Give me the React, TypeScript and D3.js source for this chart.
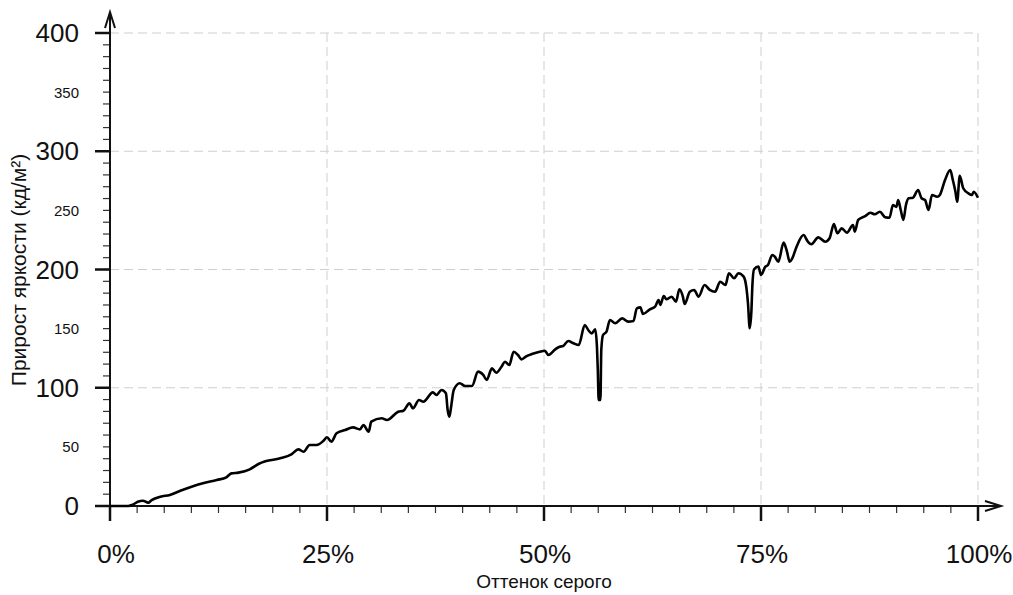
import * as d3 from "d3"

// grey shade (%) and luminance gain (cd/m²)
const shade = [
  0, 2.1, 2.6, 3.2, 3.8, 4.4, 4.8, 5.8, 6.9, 8.1, 9.4, 10.7, 12.3, 13.4, 14.0, 14.8, 16.1, 17.1, 17.9, 19.6,
  20.9, 21.7, 22.3, 23.0, 23.8, 24.6, 25.0, 25.5, 26.1, 27.1, 28.0, 28.8, 29.2, 29.8, 30.1, 31.3, 31.9, 33.2,
  33.8, 34.5, 34.9, 35.6, 36.1, 37.2, 37.6, 38.2, 38.7, 38.9, 39.1, 39.3, 39.6, 40.3, 40.9, 41.7, 42.4, 43.0,
  43.4, 44.0, 44.5, 45.1, 45.5, 46.0, 46.5, 47.0, 47.4, 48.0, 48.6, 49.5, 50.1, 50.5, 51.3, 51.8, 52.2, 52.8,
  53.4, 54.0, 54.7, 55.1, 55.5, 55.9, 56.1, 56.2, 56.3, 56.5, 56.6, 56.8, 57.2, 57.6, 58.2, 59.0, 59.7, 60.3,
  60.7, 61.1, 61.4, 62.2, 62.8, 63.2, 63.4, 63.8, 64.1, 64.7, 65.2, 65.6, 66.0, 66.2, 66.8, 67.3, 67.8, 68.5,
  69.1, 69.7, 70.3, 70.9, 71.3, 71.9, 72.4, 73.0, 73.3, 73.5, 73.7, 73.9, 74.0, 74.2, 74.7, 75.0, 75.5, 75.8,
  76.3, 76.6, 77.0, 77.6, 78.0, 78.3, 78.6, 79.1, 79.9, 80.4, 80.8, 81.6, 82.4, 82.9, 83.4, 83.8, 84.3, 84.9,
  85.6, 85.8, 86.2, 87.0, 87.6, 88.1, 88.7, 89.3, 89.8, 90.2, 90.6, 90.8, 91.1, 91.4, 91.7, 92.0, 92.5, 93.1,
  93.5, 93.9, 94.3, 94.7, 95.3, 95.6, 96.2, 96.8, 97.1, 97.4, 97.6, 97.9, 98.3, 98.9, 99.3, 99.5, 100,
]
const gain = [
  0, 0, 1, 3.6, 4.5, 2.8, 5, 7.9, 9.3, 12.9, 16.3, 19.2, 22, 24.3, 27.6, 28.2, 31, 35.5, 37.8, 40.3,
  43.7, 47.9, 45.9, 51.6, 51.6, 55.2, 58.1, 54.4, 61.5, 64.3, 66.5, 64.8, 68.5, 62.8, 71.3, 74.2, 72.7, 79.7,
  80.6, 86.8, 82.6, 89.6, 88.2, 96.1, 93.9, 98.1, 95.3, 81.2, 75.5, 84, 98.1, 103.8, 101.5, 101.5, 113.6, 110.8,
  106.6, 116.4, 112.7, 117.8, 122, 119.2, 130.5, 127.7, 124, 126.8, 128.5, 130.5, 131.3, 127.7, 132.5, 134.7, 135.3, 139.5,
  137.6, 136.2, 153.1, 148.8, 146, 149.4, 134.7, 115, 89.6, 89.6, 131.9, 144.6, 147.4, 157.3, 154.5, 158.7, 155.9, 156.4,
  167.2, 168, 162.4, 166.3, 168.6, 174.2, 170, 177.6, 174.8, 177, 172.8, 183.3, 177, 170.8, 181.2, 182.7, 177, 186.9,
  182.7, 181.2, 189.7, 186.9, 196.8, 192.6, 196.8, 194, 185.5, 171.4, 150.3, 165.8, 185.5, 200.2, 202.4, 195.3, 202.4, 203.8,
  212.3, 210.8, 206.6, 222.7, 215, 206.6, 209.4, 219.3, 229.2, 223.5, 221.3, 227.2, 223.5, 226.4, 238.5, 230.6, 234.8, 231.2,
  237.6, 232, 241.9, 245.2, 248, 246.7, 248.9, 244.2, 243.8, 254.5, 253, 258.8, 250.3, 241.9, 254.5, 260.2, 260.7, 267.2,
  260.2, 258.8, 250.3, 263, 261.5, 263, 275.7, 284.1, 275.7, 265.8, 257.3, 279.3, 268.7, 264.4, 263, 265.8, 260.7,
]

const xMajor = [0, 25, 50, 75, 100]
const xLabels = ["0%", "25%", "50%", "75%", "100%"]
const yMajor = [0, 100, 200, 300, 400]
const yMinorLabelled = [50, 150, 250, 350]

const W = 1013
const H = 595
const font = "'Liberation Sans', Arial, sans-serif"

export default function App() {
  const x = d3.scaleLinear().domain([0, 100]).range([110, 978])
  const y = d3.scaleLinear().domain([0, 400]).range([506, 33])

  const pts: [number, number][] = shade.map((s, i) => [s, gain[i]])
  const line = d3
    .line<[number, number]>()
    .curve(d3.curveMonotoneX)
    .x((d) => x(d[0]))
    .y((d) => y(d[1]))

  const xMinor = d3.range(0, 100.001, 100 / 32)
  const yMinor = d3.range(0, 400.001, 10)
  const x0 = x(0)
  const y0 = y(0)

  return (
    <svg
      width={W}
      height={H}
      style={{ position: "absolute", left: 0, top: 0, background: "#fff" }}
      fontFamily={font}
    >
      {/* grid */}
      <g stroke="#cfcfcf" strokeWidth={1} strokeDasharray="9,5" fill="none">
        {yMajor.slice(1).map((v) => (
          <line key={"gy" + v} x1={x0} x2={x(100)} y1={y(v)} y2={y(v)} />
        ))}
        {xMajor.slice(1).map((v) => (
          <line key={"gx" + v} x1={x(v)} x2={x(v)} y1={y(400)} y2={y0} />
        ))}
      </g>

      {/* minor ticks */}
      <g stroke="#333" strokeWidth={1.2}>
        {xMinor.map((v) => (
          <line key={"mx" + v} x1={x(v)} x2={x(v)} y1={y0} y2={y0 + 7} />
        ))}
        {yMinor.map((v) => (
          <line key={"my" + v} x1={x0 - 7} x2={x0} y1={y(v)} y2={y(v)} />
        ))}
      </g>

      {/* major ticks */}
      <g stroke="#111" strokeWidth={2.5}>
        {xMajor.map((v) => (
          <line key={"Mx" + v} x1={x(v)} x2={x(v)} y1={y0} y2={y0 + 15} />
        ))}
        {yMajor.map((v) => (
          <line key={"My" + v} x1={x0 - 15} x2={x0} y1={y(v)} y2={y(v)} />
        ))}
      </g>

      {/* axes with arrows */}
      <g stroke="#111" strokeWidth={2} fill="none">
        <line x1={x0} x2={x0} y1={y0 + 14} y2={12} />
        <polyline points={`${x0 - 5},28 ${x0},12 ${x0 + 5},28`} />
        <line x1={x0 - 14} x2={1001} y1={y0} y2={y0} />
        <polyline points={`985,${y0 - 5} 1001,${y0} 985,${y0 + 5}`} />
      </g>

      {/* data */}
      <path d={line(pts) ?? ""} fill="none" stroke="#000" strokeWidth={2.6} strokeLinejoin="round" />

      {/* y labels */}
      <g fill="#111" textAnchor="end" dominantBaseline="central">
        {yMajor.map((v) => (
          <text key={"ly" + v} x={79} y={y(v)} fontSize={26}>
            {v}
          </text>
        ))}
        {yMinorLabelled.map((v) => (
          <text key={"ls" + v} x={79} y={y(v)} fontSize={15}>
            {v}
          </text>
        ))}
      </g>

      {/* x labels */}
      <g fill="#111" textAnchor="middle" fontSize={26}>
        {xMajor.map((v, i) => (
          <text key={"lx" + v} x={x(v) + (i === 0 ? 6 : 1)} y={563}>
            {xLabels[i]}
          </text>
        ))}
      </g>

      <text x={544} y={588} textAnchor="middle" fontSize={19} fill="#111">
        Оттенок серого
      </text>
      <text
        transform={`translate(26,270) rotate(-90)`}
        textAnchor="middle"
        fontSize={21}
        fill="#111"
      >
        Прирост яркости (кд/м²)
      </text>
    </svg>
  )
}
